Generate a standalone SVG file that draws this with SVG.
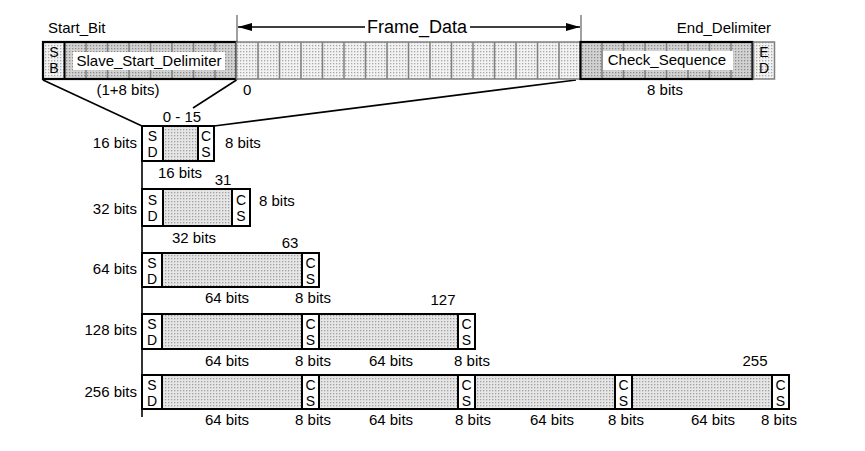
<svg xmlns="http://www.w3.org/2000/svg" width="865" height="451" viewBox="0 0 865 451">
<defs>
<pattern id="pL" patternUnits="userSpaceOnUse" width="3" height="3"><rect width="3" height="3" fill="#f2f2f2"/><rect width="1.3" height="1.3" fill="#a8a8a8"/></pattern>
<pattern id="pD" patternUnits="userSpaceOnUse" width="3" height="3"><rect width="3" height="3" fill="#d2d2d2"/><rect width="1.3" height="1.3" fill="#8c8c8c"/></pattern>
<pattern id="pR" patternUnits="userSpaceOnUse" width="3" height="3"><rect width="3" height="3" fill="#e6e6e6"/><rect width="1.3" height="1.3" fill="#a0a0a0"/></pattern>
<marker id="ah" viewBox="0 0 14 8" refX="14" refY="4" markerWidth="14" markerHeight="8" markerUnits="userSpaceOnUse" orient="auto"><path d="M0,0 L14,4 L0,8 Z" fill="#000"/></marker>
</defs>
<style>
text{font-family:"Liberation Sans",Arial,sans-serif;font-size:15px;fill:#000}
.c{text-anchor:middle}
.e{text-anchor:end}
.big{font-size:18px}
.st{font-size:14px;text-anchor:middle}
.cell{stroke:#808080;stroke-width:1.5}
.thick{fill:none;stroke:#000;stroke-width:2.2}
.blk{fill:#fff;stroke:#000;stroke-width:2}
.dat{fill:url(#pR);stroke:#000;stroke-width:2}
.ln{stroke:#000;stroke-width:1.6;fill:none}
.tick{stroke:#808080;stroke-width:1.5}
</style>
<rect width="865" height="451" fill="#fff"/>

<g id="connectors">
<line class="tick" x1="237" y1="15" x2="237" y2="42"/>
<line class="tick" x1="581" y1="15" x2="581" y2="42"/>
<line class="ln" x1="365" y1="27" x2="238" y2="27" marker-end="url(#ah)"/>
<line class="ln" x1="470" y1="27" x2="580" y2="27" marker-end="url(#ah)"/>
<line class="ln" x1="43" y1="80" x2="142" y2="126"/>
<line class="ln" x1="236.5" y1="80" x2="193" y2="108"/>
<line class="ln" x1="576" y1="80" x2="214" y2="126"/>
<line class="ln" x1="142" y1="126" x2="142" y2="417" stroke-width="2"/>
</g>

<g id="frame-top">
<g id="start-bit">
<rect x="43" y="42" width="21.5" height="37" fill="url(#pL)"/>
<text class="st"><tspan x="54" y="57">S</tspan><tspan x="54" y="73">B</tspan></text>
</g>
<g id="slave-start-delimiter">
<rect x="64.5" y="42" width="172" height="37" fill="url(#pD)"/>
<path class="cell" d="M86,42V79M107.5,42V79M129,42V79M150.5,42V79M172,42V79M193.5,42V79M215,42V79"/>
<rect x="73" y="52" width="152" height="18" fill="#fff"/>
<text class="c" x="149" y="66">Slave_Start_Delimiter</text>
<rect class="thick" x="43" y="42" width="193.5" height="37"/>
<line x1="64.5" y1="42" x2="64.5" y2="79" stroke="#000" stroke-width="2"/>
</g>
<g id="frame-data">
<rect x="236.5" y="42" width="344" height="37" fill="url(#pL)" class="cell"/>
<path class="cell" d="M258,42V79M279.5,42V79M301,42V79M322.5,42V79M344,42V79M365.5,42V79M387,42V79M408.5,42V79M430,42V79M451.5,42V79M473,42V79M494.5,42V79M516,42V79M537.5,42V79M559,42V79"/>
</g>
<g id="check-sequence">
<rect x="580.5" y="42" width="172" height="37" fill="url(#pD)"/>
<path class="cell" d="M602,42V79M623.5,42V79M645,42V79M666.5,42V79M688,42V79M709.5,42V79M731,42V79"/>
<rect x="603" y="51" width="130" height="19" fill="#fff"/>
<text class="c" x="667" y="65">Check_Sequence</text>
<rect class="thick" x="580.5" y="42" width="172" height="37"/>
</g>
<g id="end-delimiter">
<rect x="753.5" y="42" width="21" height="37" fill="url(#pL)" class="cell"/>
<text class="st"><tspan x="764" y="57">E</tspan><tspan x="764" y="73">D</tspan></text>
</g>
<text x="48" y="33">Start_Bit</text>
<text class="e" x="771" y="33">End_Delimiter</text>
<text class="c big" x="417" y="33">Frame_Data</text>
<text class="c" x="128" y="95">(1+8 bits)</text>
<text x="243" y="95">0</text>
<text class="c" x="665" y="95">8 bits</text>
</g>

<g id="row-16">
<rect class="blk" x="142" y="126" width="21" height="35"/>
<rect class="dat" x="163" y="126" width="35" height="35"/>
<rect class="blk" x="198" y="126" width="16" height="35"/>
<text class="st"><tspan x="152.5" y="141">S</tspan><tspan x="152.5" y="156.7">D</tspan></text>
<text class="st"><tspan x="206" y="141">C</tspan><tspan x="206" y="156.7">S</tspan></text>
<text class="c" x="182" y="122">0 - 15</text>
<text class="e" x="137" y="148">16 bits</text>
<text x="225" y="148">8 bits</text>
<text class="c" x="180" y="178">16 bits</text>
</g>

<g id="row-32">
<rect class="blk" x="142" y="189" width="21" height="37"/>
<rect class="dat" x="163" y="189" width="69" height="37"/>
<rect class="blk" x="232" y="189" width="18" height="37"/>
<text class="st"><tspan x="152.5" y="205">S</tspan><tspan x="152.5" y="220.7">D</tspan></text>
<text class="st"><tspan x="241" y="205">C</tspan><tspan x="241" y="220.7">S</tspan></text>
<text class="c" x="223" y="185">31</text>
<text class="e" x="137" y="214">32 bits</text>
<text x="259" y="206">8 bits</text>
<text class="c" x="194" y="243">32 bits</text>
</g>

<g id="row-64">
<rect class="blk" x="142" y="253" width="20" height="34"/>
<rect class="dat" x="162" y="253" width="140" height="34"/>
<rect class="blk" x="302" y="253" width="17" height="34"/>
<text class="st"><tspan x="152" y="268">S</tspan><tspan x="152" y="283.7">D</tspan></text>
<text class="st"><tspan x="310.5" y="268">C</tspan><tspan x="310.5" y="283.7">S</tspan></text>
<text class="c" x="290" y="248">63</text>
<text class="e" x="137" y="274">64 bits</text>
<text class="c" x="227" y="303">64 bits</text>
<text class="c" x="313" y="303">8 bits</text>
</g>

<g id="row-128">
<rect class="blk" x="142" y="314" width="20" height="35"/>
<rect class="dat" x="162" y="314" width="140" height="35"/>
<rect class="blk" x="302" y="314" width="17" height="35"/>
<rect class="dat" x="319" y="314" width="139" height="35"/>
<rect class="blk" x="458" y="314" width="17" height="35"/>
<text class="st"><tspan x="152" y="329">S</tspan><tspan x="152" y="344.7">D</tspan></text>
<text class="st"><tspan x="310.5" y="329">C</tspan><tspan x="310.5" y="344.7">S</tspan></text>
<text class="st"><tspan x="466.5" y="329">C</tspan><tspan x="466.5" y="344.7">S</tspan></text>
<text class="c" x="443" y="305">127</text>
<text class="e" x="137" y="335">128 bits</text>
<text class="c" x="227" y="366">64 bits</text>
<text class="c" x="313" y="366">8 bits</text>
<text class="c" x="391" y="366">64 bits</text>
<text class="c" x="472" y="366">8 bits</text>
</g>

<g id="row-256">
<rect class="blk" x="142" y="375" width="20" height="34"/>
<rect class="dat" x="162" y="375" width="140" height="34"/>
<rect class="blk" x="302" y="375" width="17" height="34"/>
<rect class="dat" x="319" y="375" width="139" height="34"/>
<rect class="blk" x="458" y="375" width="17" height="34"/>
<rect class="dat" x="475" y="375" width="140" height="34"/>
<rect class="blk" x="615" y="375" width="17" height="34"/>
<rect class="dat" x="632" y="375" width="140" height="34"/>
<rect class="blk" x="772" y="375" width="17" height="34"/>
<text class="st"><tspan x="152" y="390">S</tspan><tspan x="152" y="405.7">D</tspan></text>
<text class="st"><tspan x="310.5" y="390">C</tspan><tspan x="310.5" y="405.7">S</tspan></text>
<text class="st"><tspan x="466.5" y="390">C</tspan><tspan x="466.5" y="405.7">S</tspan></text>
<text class="st"><tspan x="623.5" y="390">C</tspan><tspan x="623.5" y="405.7">S</tspan></text>
<text class="st"><tspan x="780.5" y="390">C</tspan><tspan x="780.5" y="405.7">S</tspan></text>
<text class="c" x="755" y="366">255</text>
<text class="e" x="137" y="397">256 bits</text>
<text class="c" x="227" y="425">64 bits</text>
<text class="c" x="313" y="425">8 bits</text>
<text class="c" x="391" y="425">64 bits</text>
<text class="c" x="473" y="425">8 bits</text>
<text class="c" x="552" y="425">64 bits</text>
<text class="c" x="626" y="425">8 bits</text>
<text class="c" x="713" y="425">64 bits</text>
<text class="c" x="779" y="425">8 bits</text>
</g>
</svg>
